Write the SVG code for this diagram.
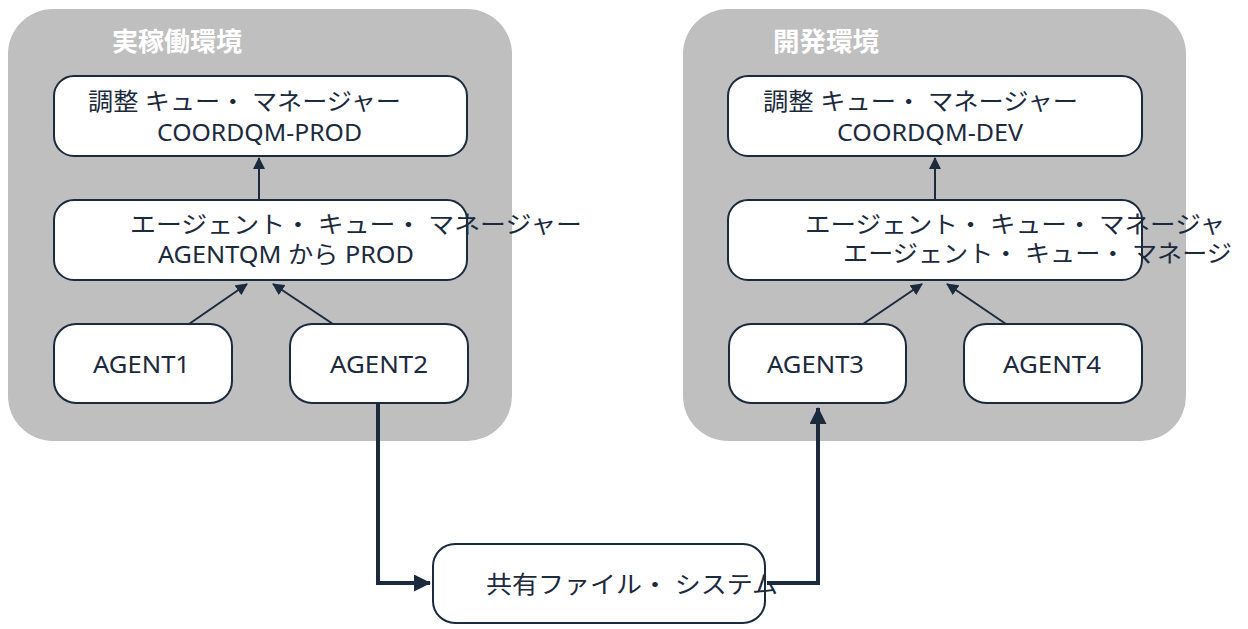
<svg xmlns="http://www.w3.org/2000/svg" width="1248" height="629" viewBox="0 0 1248 629">
<defs>
<style>
.env{fill:#bfbfbf;}
.title{font-family:"Noto Sans CJK JP","Noto Sans",sans-serif;font-weight:bold;font-size:26px;fill:#ffffff;}
.box{fill:#ffffff;stroke:#1c2a3e;stroke-width:2;}
.t{font-family:"Noto Sans","Noto Sans CJK JP",sans-serif;font-size:24px;fill:#1c2a3e;}
.thin{fill:none;stroke:#1c2a3e;stroke-width:2;}
.thick{fill:none;stroke:#1c2a3e;stroke-width:4;}
</style>
<marker id="ah" viewBox="0 0 12 12" refX="11" refY="6" markerWidth="12" markerHeight="12" markerUnits="userSpaceOnUse" orient="auto">
<path d="M0,0 L12,6 L0,12 Z" fill="#1c2a3e"/>
</marker>
<marker id="ahb" viewBox="0 0 17 17" refX="16" refY="8.5" markerWidth="17" markerHeight="17" markerUnits="userSpaceOnUse" orient="auto">
<path d="M0,0 L17,8.5 L0,17 Z" fill="#1c2a3e"/>
</marker>
</defs>

<g id="env-prod">
<rect class="env" x="8" y="9" width="504" height="432" rx="45"/>
<text class="title" x="112" y="51" textLength="130" lengthAdjust="spacingAndGlyphs">実稼働環境</text>
</g>
<g id="env-dev">
<rect class="env" x="683" y="9" width="503" height="432" rx="45"/>
<text class="title" x="773" y="51" textLength="106" lengthAdjust="spacingAndGlyphs">開発環境</text>
</g>

<g id="coord-prod">
<rect class="box" x="54" y="76" width="413" height="80" rx="20"/>
<text class="t" x="88" y="110" textLength="313" lengthAdjust="spacingAndGlyphs">調整 キュー・ マネージャー</text>
<text class="t" x="157" y="141" textLength="205" lengthAdjust="spacingAndGlyphs">COORDQM-PROD</text>
</g>
<g id="agentqm-prod">
<rect class="box" x="54" y="200" width="413" height="80" rx="20"/>
<text class="t" x="130" y="233" textLength="452" lengthAdjust="spacingAndGlyphs">エージェント・ キュー・ マネージャー</text>
<text class="t" x="158" y="263" textLength="256" lengthAdjust="spacingAndGlyphs">AGENTQM から PROD</text>
</g>
<g id="agent1">
<rect class="box" x="54" y="324" width="178" height="79" rx="22"/>
<text class="t" x="93" y="373" textLength="97" lengthAdjust="spacingAndGlyphs">AGENT1</text>
</g>
<g id="agent2">
<rect class="box" x="290" y="324" width="178" height="79" rx="22"/>
<text class="t" x="330" y="373" textLength="98" lengthAdjust="spacingAndGlyphs">AGENT2</text>
</g>

<g id="coord-dev">
<rect class="box" x="728" y="76" width="414" height="80" rx="20"/>
<text class="t" x="763" y="110" textLength="315" lengthAdjust="spacingAndGlyphs">調整 キュー・ マネージャー</text>
<text class="t" x="837" y="141" textLength="186" lengthAdjust="spacingAndGlyphs">COORDQM-DEV</text>
</g>
<g id="agentqm-dev">
<rect class="box" x="728" y="200" width="414" height="80" rx="20"/>
<text class="t" x="805" y="233" textLength="420" lengthAdjust="spacingAndGlyphs">エージェント・ キュー・ マネージャ</text>
<text class="t" x="843" y="262" textLength="389" lengthAdjust="spacingAndGlyphs">エージェント・ キュー・ マネージ</text>
</g>
<g id="agent3">
<rect class="box" x="729" y="324" width="177" height="79" rx="22"/>
<text class="t" x="767" y="373" textLength="97" lengthAdjust="spacingAndGlyphs">AGENT3</text>
</g>
<g id="agent4">
<rect class="box" x="964" y="324" width="178" height="79" rx="22"/>
<text class="t" x="1003" y="373" textLength="98" lengthAdjust="spacingAndGlyphs">AGENT4</text>
</g>

<g id="shared-fs">
<rect class="box" x="433" y="544" width="332" height="79" rx="22"/>
<text class="t" x="486" y="593" textLength="292" lengthAdjust="spacingAndGlyphs">共有ファイル・ システム</text>
</g>

<g id="connectors">
<line class="thin" x1="259" y1="200" x2="259" y2="158" marker-end="url(#ah)"/>
<line class="thin" x1="189" y1="324" x2="247" y2="284" marker-end="url(#ah)"/>
<line class="thin" x1="333" y1="324" x2="273" y2="284" marker-end="url(#ah)"/>
<line class="thin" x1="935" y1="200" x2="935" y2="158" marker-end="url(#ah)"/>
<line class="thin" x1="863" y1="324" x2="922" y2="284" marker-end="url(#ah)"/>
<line class="thin" x1="1006" y1="324" x2="947" y2="284" marker-end="url(#ah)"/>
<path class="thick" d="M378,403 L378,583 L430,583" marker-end="url(#ahb)"/>
<path class="thick" d="M767,583 L818,583 L818,408" marker-end="url(#ahb)"/>
</g>
</svg>
